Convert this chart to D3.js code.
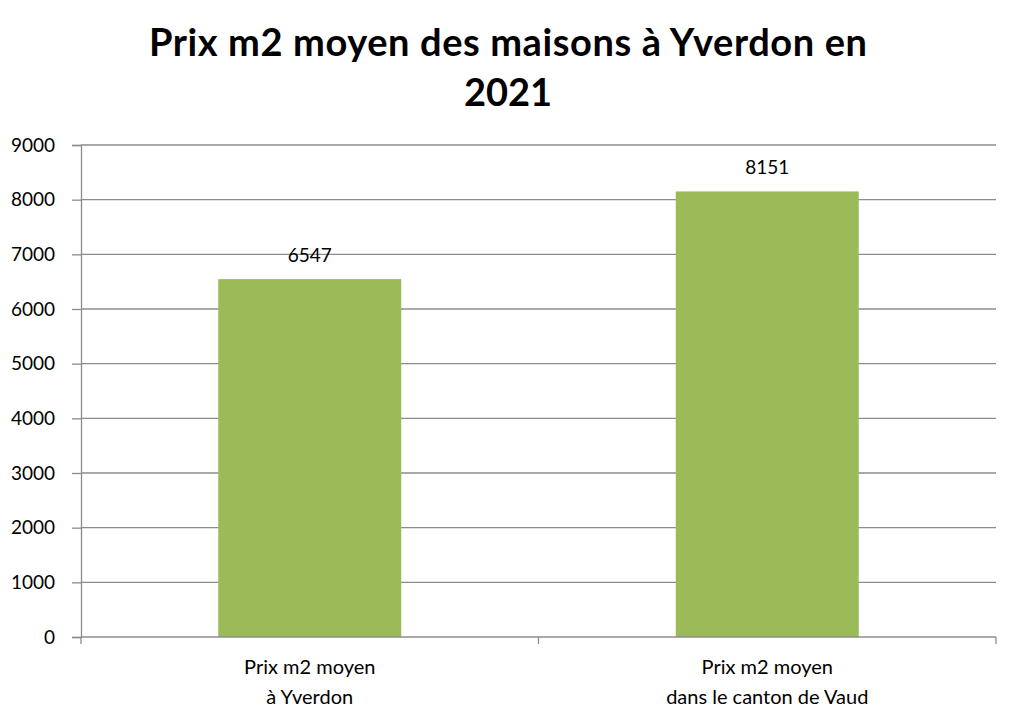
<!DOCTYPE html>
<html>
<head>
<meta charset="utf-8">
<script src="https://cdn.jsdelivr.net/npm/d3@7"></script>
<style>
  body { margin: 0; background: #fff; }
  svg text { font-family: Lato, "Open Sans", sans-serif; fill: #000; }
</style>
</head>
<body>
<div id="chart"></div>
<script>
// Data
const categories = [["Prix m2 moyen", "à Yverdon"], ["Prix m2 moyen", "dans le canton de Vaud"]];
const values = [6547, 8151];
const yTicks = [0, 1000, 2000, 3000, 4000, 5000, 6000, 7000, 8000, 9000];
const titleLines = ["Prix m2 moyen des maisons à Yverdon en", "2021"];

const width = 1019;
const height = 726;
const margin = { top: 145, right: 23, bottom: 89, left: 81 };

const svg = d3.select("#chart")
  .append("svg")
  .attr("width", width)
  .attr("height", height);

const x = d3.scaleBand()
  .domain(d3.range(categories.length))
  .range([margin.left, width - margin.right])
  .paddingInner(0.6)
  .paddingOuter(0.3);

const y = d3.scaleLinear()
  .domain([0, 9000])
  .range([height - margin.bottom, margin.top]);

// Title
svg.append("g")
  .selectAll("text")
  .data(titleLines)
  .enter().append("text")
  .attr("x", 508)
  .attr("y", (d, i) => 56 + i * 50)
  .attr("text-anchor", "middle")
  .attr("font-size", 38)
  .attr("font-weight", "bold")
  .attr("textLength", (d, i) => i === 0 ? 718 : null)
  .text(d => d);

// Gridlines
svg.append("g")
  .selectAll("line")
  .data(yTicks.slice(1))
  .enter().append("line")
  .attr("x1", margin.left)
  .attr("x2", width - margin.right)
  .attr("y1", d => y(d))
  .attr("y2", d => y(d))
  .attr("stroke", "#8c8c8c")
  .attr("stroke-width", 1.3);

// Bars
svg.append("g")
  .selectAll("rect")
  .data(values)
  .enter().append("rect")
  .attr("x", (d, i) => x(i))
  .attr("width", x.bandwidth())
  .attr("y", d => y(d))
  .attr("height", d => y(0) - y(d))
  .attr("fill", "#9bbb59");

// Value labels
svg.append("g")
  .selectAll("text")
  .data(values)
  .enter().append("text")
  .attr("x", (d, i) => x(i) + x.bandwidth() / 2)
  .attr("y", d => y(d) - 17)
  .attr("text-anchor", "middle")
  .attr("font-size", 19)
  .text(d => d);

// Y axis
const yAxis = svg.append("g")
  .attr("transform", `translate(${margin.left},0)`)
  .call(d3.axisLeft(y).tickValues(yTicks).tickFormat(d3.format("d")).tickSize(9).tickPadding(17));
yAxis.select(".domain").attr("stroke", "#8c8c8c").attr("stroke-width", 1.3);
yAxis.selectAll(".tick line").attr("stroke", "#8c8c8c").attr("stroke-width", 1.3);
yAxis.selectAll(".tick text").attr("font-size", 19).attr("font-family", "Lato, sans-serif").attr("fill", "#000");

// X axis
const xBoundary = d3.range(categories.length + 1).map(i => margin.left + i * (width - margin.left - margin.right) / categories.length);
svg.append("line")
  .attr("x1", margin.left)
  .attr("x2", width - margin.right)
  .attr("y1", y(0))
  .attr("y2", y(0))
  .attr("stroke", "#8c8c8c")
  .attr("stroke-width", 1.3);
svg.append("g")
  .selectAll("line")
  .data(xBoundary)
  .enter().append("line")
  .attr("x1", d => d)
  .attr("x2", d => d)
  .attr("y1", y(0))
  .attr("y2", y(0) + 7)
  .attr("stroke", "#8c8c8c")
  .attr("stroke-width", 1.3);

// Category labels
const catLabel = svg.append("g")
  .selectAll("text")
  .data(categories)
  .enter().append("text")
  .attr("x", (d, i) => x(i) + x.bandwidth() / 2)
  .attr("text-anchor", "middle")
  .attr("font-size", 20);
catLabel.selectAll("tspan")
  .data(d => d)
  .enter().append("tspan")
  .attr("x", function() { return d3.select(this.parentNode).attr("x"); })
  .attr("y", (d, i) => 674 + i * 30)
  .text(d => d);
</script>
</body>
</html>
